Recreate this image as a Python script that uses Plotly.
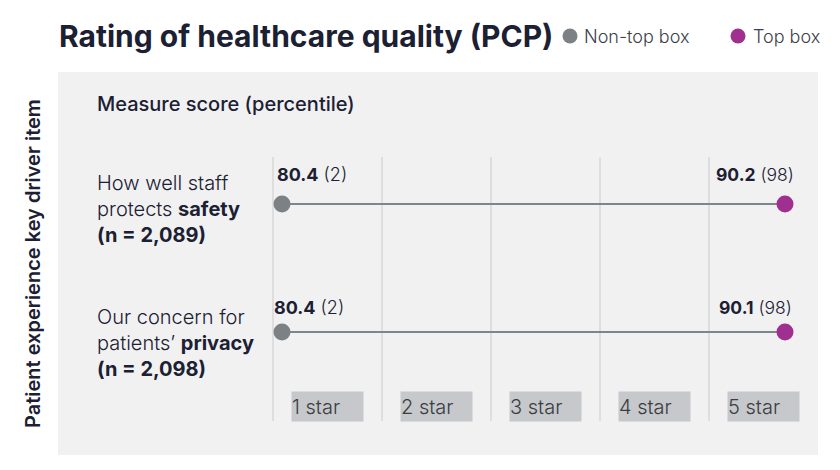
import plotly.graph_objects as go

# ---------------- data ----------------
items = [
    "How well staff<br>protects <b>safety</b><br><b>(n = 2,089)</b>",
    "Our concern for<br>patients’ <b>privacy</b><br><b>(n = 2,098)</b>",
]
non_top_score = [80.4, 80.4]
non_top_pct = [2, 2]
top_score = [90.2, 90.1]
top_pct = [98, 98]
star_labels = ["1 star", "2 star", "3 star", "4 star", "5 star"]

title_text = "Rating of healthcare quality (PCP)"
series_names = ["Non-top box", "Top box"]
subtitle = "Measure score (percentile)"
y_title = "Patient experience key driver item"

# ---------------- style ----------------
OFF = 8            # page body margin
W, H = 824, 454
FONT = "Inter"
DARK = "#1b2033"
GRAY = "#7c8185"
PURPLE = "#a0308f"
LINE = "#80858a"
PANEL = "#f1f1f1"
GRID = "#dedede"
BOX = "#c6c8cb"
LABEL_DY = [30, 25]
LEFT_DX = [-7, -10]
RIGHT_DX = [11, 9]


def px(x):
    return (x - OFF) / W


def py(y):
    return 1 - (y - OFF) / H


fig = go.Figure()

rows = list(range(len(items)))

for i in rows:
    fig.add_trace(go.Scatter(
        x=[non_top_pct[i], top_pct[i]], y=[i, i], mode="lines",
        line=dict(color=LINE, width=2), hoverinfo="skip", showlegend=False))

fig.add_trace(go.Scatter(
    x=non_top_pct, y=rows, mode="markers", name=series_names[0],
    marker=dict(color=GRAY, size=17, line=dict(width=0)), showlegend=False))
fig.add_trace(go.Scatter(
    x=top_pct, y=rows, mode="markers", name=series_names[1],
    marker=dict(color=PURPLE, size=17, line=dict(width=0)), showlegend=False))

shapes = []
shapes.append(dict(type="rect", xref="paper", yref="paper", layer="below",
                   x0=px(58), x1=px(818), y0=py(455), y1=py(72),
                   fillcolor=PANEL, line=dict(width=0)))
col_left, col_w = 273, 109
for k in range(len(star_labels)):
    xx = px(col_left + k * col_w)
    shapes.append(dict(type="line", xref="paper", yref="paper", layer="below",
                       x0=xx, x1=xx, y0=py(421), y1=py(157),
                       line=dict(color=GRID, width=2)))
for cx, col in [(570, GRAY), (738, PURPLE)]:
    r = 7.5
    shapes.append(dict(type="circle", xref="paper", yref="paper",
                       x0=px(cx - r), x1=px(cx + r), y0=py(36 + r), y1=py(36 - r),
                       fillcolor=col, line=dict(width=0)))

ann = []
ann.append(dict(text=f"<b>{title_text}</b>", xref="paper", yref="paper",
                x=px(57), y=py(36), xanchor="left", yanchor="middle", showarrow=False,
                font=dict(family=FONT, size=30, color=DARK, weight=700)))
ann.append(dict(text=series_names[0], xref="paper", yref="paper",
                x=px(582), y=py(37), xanchor="left", yanchor="middle", showarrow=False,
                font=dict(family=FONT, size=18, color="#3a3f4a", weight=300)))
ann.append(dict(text=series_names[1], xref="paper", yref="paper",
                x=px(751), y=py(37), xanchor="left", yanchor="middle", showarrow=False,
                font=dict(family=FONT, size=18, color="#3a3f4a", weight=300)))
ann.append(dict(text=subtitle, xref="paper", yref="paper",
                x=px(95), y=py(104), xanchor="left", yanchor="middle", showarrow=False,
                font=dict(family=FONT, size=20, color=DARK, weight=500)))
ann.append(dict(text=y_title, xref="paper", yref="paper", textangle=-90,
                x=px(33), y=py(264), xanchor="center", yanchor="middle", showarrow=False,
                font=dict(family=FONT, size=20, color=DARK, weight=600)))

for i in rows:
    ann.append(dict(text=items[i], xref="paper", yref="y", x=px(95), y=i,
                    xanchor="left", yanchor="middle", align="left", showarrow=False,
                    yshift=-5 - 6 * i,
                    font=dict(family=FONT, size=20, color=DARK, weight=300)))
    ann.append(dict(text=f"<b>{non_top_score[i]}</b> ({non_top_pct[i]})",
                    x=non_top_pct[i], y=i, xref="x", yref="y", xanchor="left",
                    yanchor="middle", xshift=LEFT_DX[i], yshift=LABEL_DY[i], showarrow=False,
                    font=dict(family=FONT, size=18, color=DARK, weight=300)))
    ann.append(dict(text=f"<b>{top_score[i]}</b> ({top_pct[i]})",
                    x=top_pct[i], y=i, xref="x", yref="y", xanchor="right",
                    yanchor="middle", xshift=RIGHT_DX[i], yshift=LABEL_DY[i], showarrow=False,
                    font=dict(family=FONT, size=17.5, color=DARK, weight=300)))

for k, lab in enumerate(star_labels):
    ann.append(dict(text=lab, xref="paper", yref="paper",
                    x=px(col_left + col_w * (k + 0.5)), y=py(406.5),
                    xanchor="center", yanchor="middle", showarrow=False,
                    width=71, height=29, align="left", bgcolor=BOX, borderpad=0,
                    font=dict(family=FONT, size=20, color="#3a3d42", weight=300)))

s = (785 - 282) / 96.0
dot_x = 282 - OFF
dot_y = 204 - OFF
fig.update_layout(
    width=W, height=H, margin=dict(l=0, r=0, t=0, b=0),
    paper_bgcolor="white", plot_bgcolor="rgba(0,0,0,0)",
    xaxis=dict(visible=False, range=[2 - dot_x / s, 2 + (W - dot_x) / s], domain=[0, 1]),
    yaxis=dict(visible=False, range=[(H - dot_y) / 128.0, -dot_y / 128.0], domain=[0, 1]),
    shapes=shapes, annotations=ann, showlegend=False,
)

fig.write_html("out.html")
